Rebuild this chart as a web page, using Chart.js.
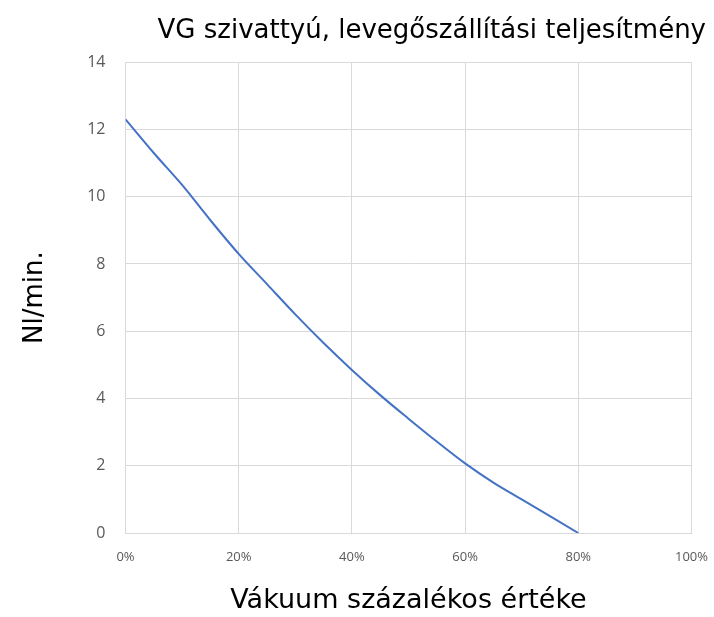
<!DOCTYPE html>
<html>
<head>
<meta charset="utf-8">
<script src="https://cdn.jsdelivr.net/npm/chart.js@4/dist/chart.umd.min.js"></script>
<style>
html,body{margin:0;padding:0;background:#fff;}
#wrap{width:714px;height:617px;position:relative;}
</style>
</head>
<body>
<div id="wrap"><canvas id="c" width="714" height="617"></canvas></div>
<script>
const vacuumPct = [0, 5, 10, 15, 20, 25, 30, 35, 40, 45, 50, 55, 60, 65, 70, 75, 80];
const flowNlMin = [12.3, 11.3, 10.35, 9.3, 8.3, 7.4, 6.5, 5.65, 4.85, 4.1, 3.4, 2.72, 2.07, 1.5, 1.0, 0.5, 0.0];
const titleText = 'VG szivattyú, levegőszállítási teljesítmény';
const xTitle = 'Vákuum százalékos értéke';
const yTitle = 'Nl/min.';

const points = vacuumPct.map((x, i) => ({x: x, y: flowNlMin[i]}));
const FONT = "'Open Sans', 'Noto Sans', sans-serif";
const TFONT = "'DejaVu Sans', sans-serif";

new Chart(document.getElementById('c'), {
  type: 'line',
  data: {
    datasets: [{
      data: points,
      borderColor: '#4472C4',
      borderWidth: 2,
      pointRadius: 0,
      fill: false,
      cubicInterpolationMode: 'monotone'
    }]
  },
  options: {
    responsive: false,
    animation: false,
    devicePixelRatio: 1,
    layout: {padding: {left: 20, right: 8, top: 8, bottom: 0}},
    plugins: {
      legend: {display: false},
      tooltip: {enabled: false},
      title: {
        display: true,
        text: titleText,
        align: 'end',
        color: '#000',
        font: {family: TFONT, size: 26, weight: 'normal'},
        padding: {top: 8, bottom: 15}
      }
    },
    scales: {
      x: {
        type: 'linear',
        min: 0, max: 100,
        ticks: {stepSize: 20, callback: v => v + '%', color: '#595959', font: {family: FONT, size: 13}, padding: 6, maxRotation: 0},
        grid: {color: '#d9d9d9', lineWidth: 1, drawTicks: true, tickLength: 10, tickColor: 'rgba(0,0,0,0)'},
        border: {color: '#d9d9d9'},
        title: {display: true, text: xTitle, color: '#000', font: {family: TFONT, size: 27}, padding: {top: 14, bottom: 0}}
      },
      y: {
        min: 0, max: 14,
        ticks: {stepSize: 2, color: '#595959', font: {family: FONT, size: 16}, padding: 20},
        grid: {color: '#d9d9d9', lineWidth: 1, drawTicks: false},
        border: {color: '#d9d9d9'},
        title: {display: true, text: yTitle, color: '#000', font: {family: TFONT, size: 26}, padding: {top: 0, bottom: 16}}
      }
    }
  }
});
</script>
</body>
</html>
